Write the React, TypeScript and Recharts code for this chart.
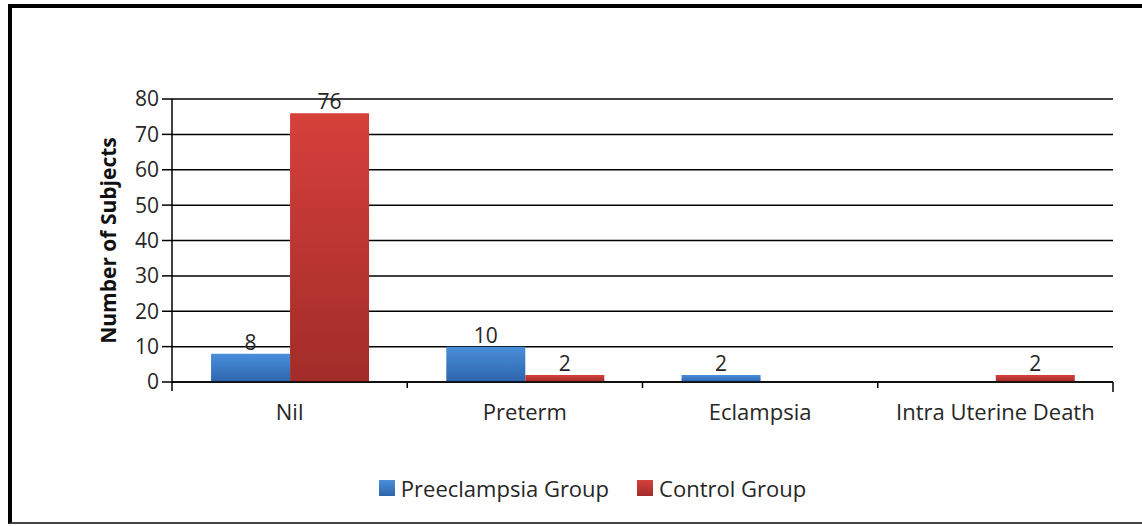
import React from 'react';
import { BarChart, Bar, XAxis, YAxis, CartesianGrid, Legend, LabelList, Label } from 'recharts';

// Pregnancy outcome counts per group
const categories = ['Nil', 'Preterm', 'Eclampsia', 'Intra Uterine Death'];
const preeclampsiaValues = [8, 10, 2, 0];
const controlValues = [76, 2, 0, 2];
const yTicks = [0, 10, 20, 30, 40, 50, 60, 70, 80];
const seriesNames = ['Preeclampsia Group', 'Control Group'];
const seriesSwatches = ['linear-gradient(#4a8fda, #2d64ad)', 'linear-gradient(#d6403b, #a12c29)'];

const data = categories.map((name, i) => ({
  name,
  preeclampsia: preeclampsiaValues[i],
  control: controlValues[i],
}));

const W = 1142;
const H = 526;
const MARGIN = { top: 99, right: 29, left: 112, bottom: 104 };
const Y_AXIS_W = 60;
const X_AXIS_H = 40;
const PLOT_W = W - MARGIN.left - Y_AXIS_W - MARGIN.right;
const PLOT_BOTTOM = H - MARGIN.bottom - X_AXIS_H;
const FONT = '"Open Sans", "DejaVu Sans", sans-serif';
const TEXT = '#262626';
const FS = 21;
const FS_CAT = 22;

const XTick = (props: any) => {
  const { x, payload, index } = props;
  const band = PLOT_W / categories.length;
  return (
    <g>
      {index === 0 && (
        <line x1={x - band / 2} x2={x - band / 2} y1={PLOT_BOTTOM} y2={PLOT_BOTTOM + 9} stroke="#000" strokeWidth={1.5} />
      )}
      <line
        x1={x + band / 2}
        x2={x + band / 2}
        y1={PLOT_BOTTOM}
        y2={PLOT_BOTTOM + (index === categories.length - 1 ? 10 : 6)}
        stroke="#000"
        strokeWidth={1.5}
      />
      <text x={x} y={PLOT_BOTTOM + 38} textAnchor="middle" fontSize={FS_CAT} fill={TEXT} fontFamily={FONT}>
        {payload.value}
      </text>
    </g>
  );
};

const ValueLabel = (props: any) => {
  const { x, y, width, value } = props;
  if (!value) return null;
  return (
    <text x={x + width / 2} y={y - 4} textAnchor="middle" fontSize={FS} fill={TEXT} fontFamily={FONT}>
      {value}
    </text>
  );
};

const YTitle = (props: any) => {
  const { viewBox } = props;
  const cx = viewBox.x - 4;
  const cy = viewBox.y + viewBox.height / 2;
  return (
    <text
      x={cx}
      y={cy}
      transform={`rotate(-90 ${cx} ${cy})`}
      textAnchor="middle"
      dominantBaseline="central"
      fontSize={21}
      fontWeight="bold"
      fill="#111"
      fontFamily={FONT}
    >
      Number of Subjects
    </text>
  );
};

const LegendContent = () => (
  <div
    style={{
      display: 'flex',
      justifyContent: 'center',
      alignItems: 'center',
      paddingLeft: 43,
      fontFamily: FONT,
      fontSize: FS_CAT,
      color: TEXT,
      lineHeight: '28px',
    }}
  >
    {seriesNames.map((name, i) => (
      <div key={name} style={{ display: 'flex', alignItems: 'center', marginRight: i === 0 ? 28 : 0 }}>
        <span style={{ display: 'inline-block', width: 16, height: 16, background: seriesSwatches[i], marginRight: 6 }} />
        <span>{name}</span>
      </div>
    ))}
  </div>
);

export default function App() {
  return (
    <div style={{ position: 'absolute', left: 0, top: 0, width: W, height: H, background: '#fff', overflow: 'hidden' }}>
      <BarChart width={W} height={H} data={data} margin={MARGIN} barCategoryGap="16.6%" barGap={0}>
        <defs>
          <linearGradient id="gradBlue" x1="0" y1="0" x2="0" y2="1">
            <stop offset="0%" stopColor="#4a8fda" />
            <stop offset="100%" stopColor="#2d64ad" />
          </linearGradient>
          <linearGradient id="gradRed" x1="0" y1="0" x2="0" y2="1">
            <stop offset="0%" stopColor="#d6403b" />
            <stop offset="100%" stopColor="#a12c29" />
          </linearGradient>
        </defs>
        <CartesianGrid vertical={false} stroke="#000" strokeWidth={1.5} />
        <XAxis
          dataKey="name"
          height={X_AXIS_H}
          tickLine={false}
          axisLine={{ stroke: '#000', strokeWidth: 1.5 }}
          tick={<XTick />}
          interval={0}
        />
        <YAxis
          width={Y_AXIS_W}
          domain={[0, 80]}
          ticks={yTicks}
          tickSize={10}
          tickMargin={3}
          axisLine={{ stroke: '#000', strokeWidth: 1.5 }}
          tickLine={{ stroke: '#000', strokeWidth: 1.5 }}
          tick={{ fontSize: FS, fill: TEXT, fontFamily: FONT }}
        >
          <Label content={<YTitle />} />
        </YAxis>
        <Legend
          layout="horizontal"
          verticalAlign="middle"
          align="center"
          wrapperStyle={{ top: 474, left: 0, width: W }}
          content={<LegendContent />}
        />
        <Bar dataKey="preeclampsia" name={seriesNames[0]} fill="url(#gradBlue)" isAnimationActive={false}>
          <LabelList dataKey="preeclampsia" content={<ValueLabel />} />
        </Bar>
        <Bar dataKey="control" name={seriesNames[1]} fill="url(#gradRed)" isAnimationActive={false}>
          <LabelList dataKey="control" content={<ValueLabel />} />
        </Bar>
      </BarChart>
      <div
        style={{
          position: 'absolute',
          left: 8,
          top: 4,
          width: W,
          height: 520,
          borderLeft: '4px solid #000',
          borderTop: '4px solid #000',
          borderBottom: '2px solid #444',
          boxSizing: 'border-box',
          pointerEvents: 'none',
          zIndex: 5,
        }}
      />
    </div>
  );
}
